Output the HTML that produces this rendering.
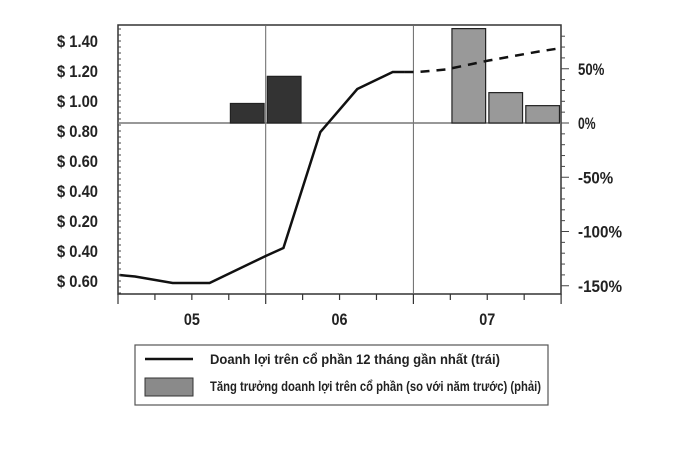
<!DOCTYPE html>
<html><head><meta charset="utf-8"><style>
body{margin:0;background:#fff;}
svg text{font-family:"Liberation Sans Narrow","Liberation Sans",sans-serif;font-weight:bold;fill:#222;}
</style></head><body>
<svg id="c" width="689" height="447" viewBox="0 0 689 447">
<g id="g"></g>
<g>
<rect x="135" y="345" width="413" height="60" fill="#fff" stroke="#555" stroke-width="1.2"/>
<line x1="145" y1="359" x2="193" y2="359" stroke="#111" stroke-width="2.5"/>
<text x="210" y="364" font-size="14" textLength="290" lengthAdjust="spacingAndGlyphs">Doanh lợi trên cổ phần 12 tháng gần nhất (trái)</text>
<rect x="145" y="378" width="48" height="18" fill="#8a8a8a" stroke="#333"/>
<text x="210" y="391" font-size="14" textLength="331" lengthAdjust="spacingAndGlyphs">Tăng trưởng doanh lợi trên cổ phần (so với năm trước) (phải)</text>
</g>
</svg>
<script>
const yearLabels=["05","06","07"];
const leftTickVals=[1.4,1.2,1.0,0.8,0.6,0.4,0.2,0.0,-0.2];
const leftTickLabels=["$ 1.40","$ 1.20","$ 1.00","$ 0.80","$ 0.60","$ 0.40","$ 0.20","$ 0.40","$ 0.60"];
const rightTickVals=[50,0,-50,-100,-150];
const rightTickLabels=["50%","0%","-50%","-100%","-150%"];
const lineT=[0.01,0.115,0.37,0.62,1.0,1.12,1.37,1.62,1.86,1.94];
const lineV=[-0.16,-0.17,-0.213,-0.213,-0.033,0.02,0.793,1.08,1.193,1.193];
const dashT=[1.94,2.03,2.22,2.51,2.85,3.0];
const dashV=[1.193,1.193,1.21,1.27,1.33,1.353];
const barT=[0.875,1.125,2.375,2.625,2.875];
const barV=[18,43,87,28,16];
const barColor=["#333","#333","#999","#999","#999"];

const L=118,R=561,T=25,B=294;
const X=t=>L+t*147.7;
const YL=v=>131-(v-0.8)*150;
const YR=p=>123-p*1.085;
const g=document.getElementById('g');
const NS='http://www.w3.org/2000/svg';
function mk(tag,attrs,parent){const e=document.createElementNS(NS,tag);for(const k in attrs)e.setAttribute(k,attrs[k]);(parent||g).appendChild(e);return e;}

let e;
e=mk('rect',{x:L,y:T,width:R-L,height:B-T,fill:'none',stroke:'#333','stroke-width':1.5});


for(let i=1;i<3;i++){e=mk('line',{x1:X(i),y1:T,x2:X(i),y2:B,stroke:'#666','stroke-width':1});

}
e=mk('line',{x1:L,y1:YR(0),x2:R,y2:YR(0),stroke:'#777','stroke-width':1.5});


barT.forEach((t,i)=>{const w=0.228*147.7;const y=YR(barV[i]);
e=mk('rect',{x:X(t)-w/2,y:y,width:w,height:YR(0)-y,fill:barColor[i],stroke:'#222','stroke-width':1.2});

});
e=mk('polyline',{points:lineT.map((t,i)=>X(t)+','+YL(lineV[i])).join(' '),fill:'none',stroke:'#111','stroke-width':2.5});


e=mk('polyline',{points:dashT.map((t,i)=>X(t)+','+YL(dashV[i])).join(' '),fill:'none',stroke:'#111','stroke-width':2.5,'stroke-dasharray':'9,7'});


for(let y=T+4;y<B;y+=6){e=mk('line',{x1:L,y1:y,x2:L+3,y2:y,stroke:'#444','stroke-width':1});

}
leftTickVals.forEach((v,i)=>{
e=mk('text',{x:L-20,y:YL(v)+6,'text-anchor':'end','font-size':17,textLength:41,lengthAdjust:'spacingAndGlyphs'});e.textContent=leftTickLabels[i];

});
for(let p=80;p>=-150;p-=10){e=mk('line',{x1:R,y1:YR(p),x2:R+(p%50===0?8:4),y2:YR(p),stroke:'#444','stroke-width':1});

}
rightTickVals.forEach((p,i)=>{
const len=rightTickLabels[i].length*8.8;
e=mk('text',{x:R+17,y:YR(p)+6,'font-size':17,textLength:len,lengthAdjust:'spacingAndGlyphs'});e.textContent=rightTickLabels[i];

});
for(let q=0;q<=12;q++){e=mk('line',{x1:X(q/4),y1:B,x2:X(q/4),y2:B+(q%4===0?10:6),stroke:'#333','stroke-width':1.2});

}
yearLabels.forEach((l,i)=>{
e=mk('text',{x:X(i+0.5),y:325,'text-anchor':'middle','font-size':17,textLength:16,lengthAdjust:'spacingAndGlyphs'});e.textContent=l;

});
</script>
</body></html>
